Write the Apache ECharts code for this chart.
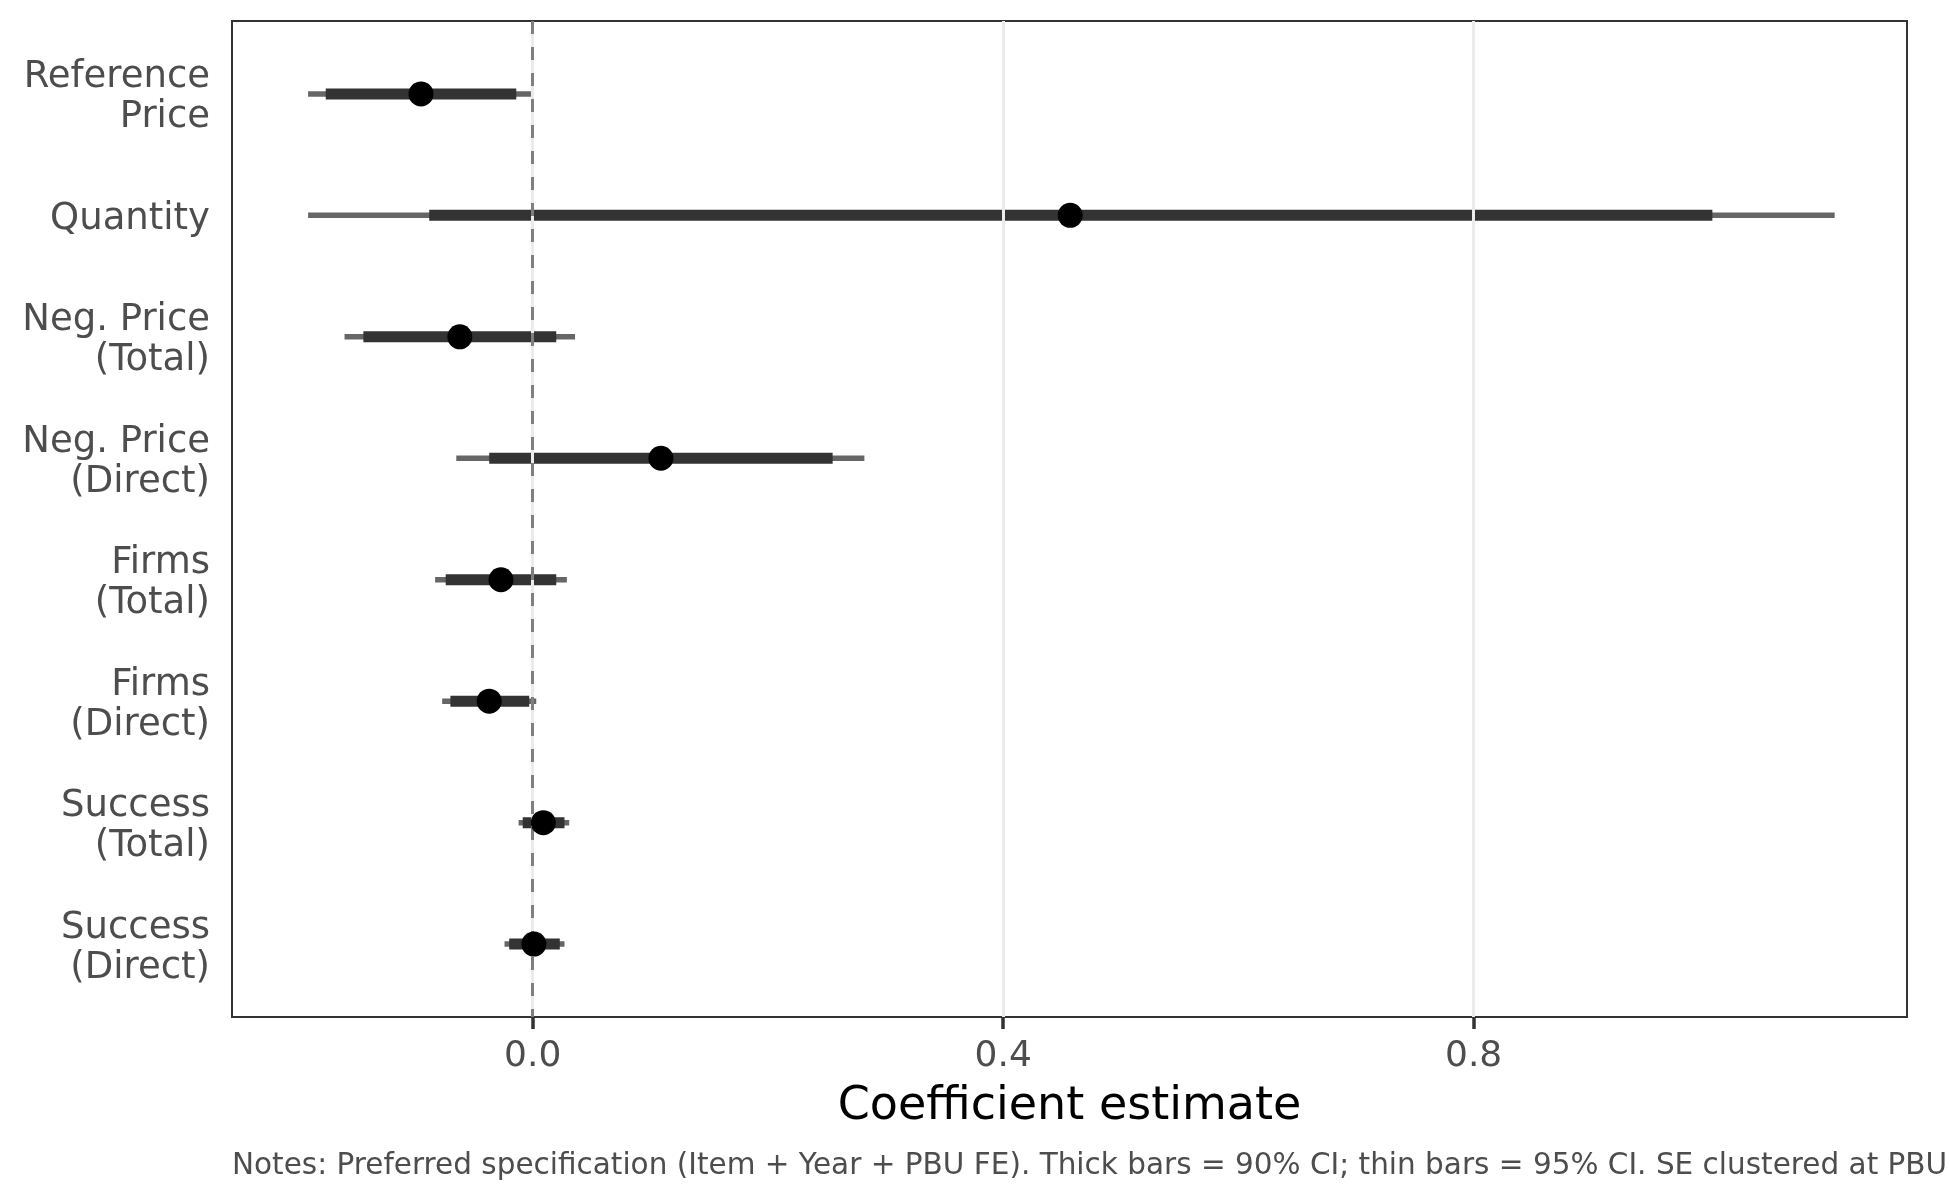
<!DOCTYPE html>
<html>
<head>
<meta charset="utf-8">
<script src="https://cdn.jsdelivr.net/npm/echarts@6.0.0/dist/echarts.min.js"></script>
<style>
html,body{margin:0;padding:0;background:#ffffff;}
#chart{width:1950px;height:1200px;}
</style>
</head>
<body>
<div id="chart"></div>
<script>
// ---- data ----
const categories = ["Reference\nPrice","Quantity","Neg. Price\n(Total)","Neg. Price\n(Direct)","Firms\n(Total)","Firms\n(Direct)","Success\n(Total)","Success\n(Direct)"];
const estimate = [-0.095, 0.457, -0.062, 0.109, -0.027, -0.037, 0.009, 0.001];
const lo90 = [-0.176, -0.088, -0.144, -0.037, -0.074, -0.070, -0.0085, -0.020];
const hi90 = [-0.014, 1.003, 0.020, 0.255, 0.020, -0.003, 0.027, 0.023];
const lo95 = [-0.191, -0.191, -0.160, -0.065, -0.083, -0.077, -0.012, -0.024];
const hi95 = [0.001, 1.107, 0.036, 0.282, 0.029, 0.003, 0.031, 0.027];
const xTicks = [0, 0.4, 0.8];
const xTitle = "Coefficient estimate";
const notes = "Notes: Preferred specification (Item + Year + PBU FE). Thick bars = 90% CI; thin bars = 95% CI. SE clustered at PBU level.";

const yPos = categories.map((c, i) => i + 1);
const thinData = categories.map((c, i) => [lo95[i], hi95[i], yPos[i]]);
const thickData = categories.map((c, i) => [lo90[i], hi90[i], yPos[i]]);
const pointData = categories.map((c, i) => [estimate[i], yPos[i]]);

function barRenderer(color, width) {
  return function (params, api) {
    const p1 = api.coord([api.value(0), api.value(2)]);
    const p2 = api.coord([api.value(1), api.value(2)]);
    return {
      type: 'line',
      shape: { x1: p1[0], y1: p1[1], x2: p2[0], y2: p2[1] },
      style: { stroke: color, lineWidth: width, lineCap: 'butt' }
    };
  };
}

const chart = echarts.init(document.getElementById('chart'), null, { renderer: 'canvas' });
const GRID = { left: 232, top: 21, width: 1675, height: 996 };
const Y_MIN = 0.4, Y_MAX = 8.6;
// label axis shifted down a few pixels so the text sits like the reference
const LABEL_SHIFT = 4 / (GRID.height / (Y_MAX - Y_MIN));

chart.setOption({
  animation: false,
  backgroundColor: '#ffffff',
  grid: Object.assign({ show: true, borderColor: '#333333', borderWidth: 2, backgroundColor: 'transparent' }, GRID),
  xAxis: {
    type: 'value',
    min: -0.2557,
    max: 1.1685,
    axisLine: { show: false },
    splitLine: { show: false },
    axisTick: { show: true, customValues: xTicks, length: 12, lineStyle: { color: '#333333', width: 3.5 } },
    axisLabel: {
      customValues: xTicks,
      formatter: v => Number(v).toFixed(1),
      fontFamily: 'DejaVu Sans', fontSize: 36, color: '#4D4D4D', margin: 22
    }
  },
  yAxis: [
    {
      type: 'value',
      min: Y_MIN,
      max: Y_MAX,
      inverse: true,
      axisLine: { show: false },
      splitLine: { show: false },
      axisTick: { show: true, customValues: yPos, length: 11, lineStyle: { color: '#333333', width: 3.5 } },
      axisLabel: { show: false }
    },
    {
      type: 'value',
      position: 'left',
      min: Y_MIN - LABEL_SHIFT,
      max: Y_MAX - LABEL_SHIFT,
      inverse: true,
      axisLine: { show: false },
      splitLine: { show: false },
      axisTick: { show: false },
      axisLabel: {
        customValues: yPos,
        formatter: v => categories[Math.round(v) - 1] || '',
        fontFamily: 'DejaVu Sans', fontSize: 37, lineHeight: 40, color: '#4D4D4D', margin: 22, align: 'right'
      }
    }
  ],
  series: [
    {
      type: 'line', data: [], silent: true, z: 1,
      markLine: {
        silent: true, symbol: 'none', label: { show: false },
        lineStyle: { color: '#EBEBEB', width: 3, type: 'solid' },
        data: xTicks.map(t => ({ xAxis: t }))
      }
    },
    {
      type: 'line', data: [], silent: true, z: 2,
      markLine: {
        silent: true, symbol: 'none', label: { show: false },
        lineStyle: { color: '#7F7F7F', width: 3, type: [13, 13] },
        data: [{ xAxis: 0 }]
      }
    },
    {
      type: 'custom', z: 3, silent: true,
      renderItem: barRenderer('#666666', 5.5),
      encode: { x: [0, 1], y: 2 },
      data: thinData
    },
    {
      type: 'custom', z: 4, silent: true,
      renderItem: barRenderer('#333333', 11),
      encode: { x: [0, 1], y: 2 },
      data: thickData
    },
    {
      type: 'scatter', z: 5, silent: true,
      symbol: 'circle', symbolSize: 25,
      itemStyle: { color: '#000000', opacity: 1 },
      data: pointData
    }
  ],
  graphic: [
    {
      type: 'text', x: GRID.left + GRID.width / 2, y: 1107,
      style: { text: xTitle, fontFamily: 'DejaVu Sans', fontSize: 46, fill: '#000000', align: 'center', verticalAlign: 'middle' }
    },
    {
      type: 'text', x: 232, y: 1166,
      style: { text: notes, fontFamily: 'DejaVu Sans', fontSize: 29.5, fill: '#4D4D4D', align: 'left', verticalAlign: 'middle' }
    }
  ]
});
</script>
</body>
</html>
